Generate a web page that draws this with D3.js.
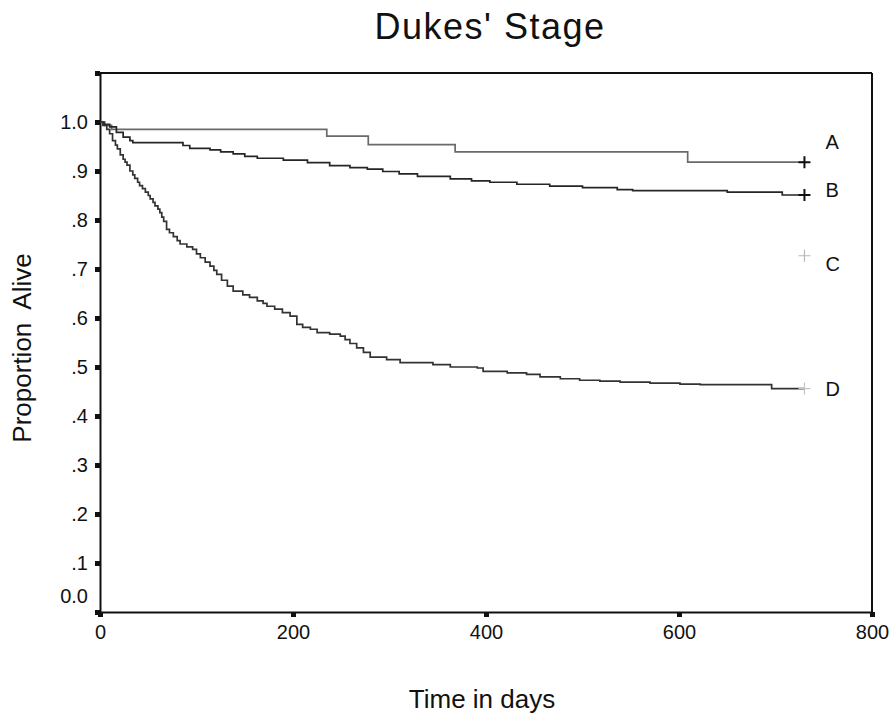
<!DOCTYPE html>
<html>
<head>
<meta charset="utf-8">
<script src="https://cdn.jsdelivr.net/npm/d3@7"></script>
<style>
  body { margin: 0; background: #fff; }
  svg { font-family: "Liberation Sans", Arial, sans-serif; }
</style>
</head>
<body>
<div id="chart"></div>
<script>
// Kaplan-Meier steps (days, proportion alive)
var timeA = [0, 5, 12, 235, 278, 368, 609, 730];
var survA = [1.0, 0.993, 0.985, 0.971, 0.954, 0.939, 0.918, 0.918];

var timeB = [0, 4, 10, 17, 24, 31, 34, 86, 93, 114, 125, 138, 150, 163, 190, 215, 238, 259, 277,
             293, 310, 329, 363, 385, 404, 432, 466, 500, 536, 552, 650, 707, 730];
var survB = [1.0, 0.995, 0.99, 0.979, 0.969, 0.962, 0.958, 0.952, 0.946, 0.943, 0.939, 0.935, 0.930,
             0.926, 0.922, 0.917, 0.911, 0.907, 0.904, 0.899, 0.894, 0.889, 0.884, 0.880, 0.877, 0.873,
             0.869, 0.866, 0.862, 0.860, 0.857, 0.851, 0.851];

var timeD = [0, 3, 7, 10, 13, 16, 18, 21, 24, 26, 28, 31, 34, 36, 39, 41, 44, 47, 50, 52, 55, 57,
             60, 62, 64, 66, 69, 72, 76, 80, 83, 90, 96, 100, 104, 109, 114, 118, 121, 126, 132, 138,
             148, 155, 163, 169, 173, 181, 189, 197, 204, 210, 218, 225, 238, 249, 254, 259, 266, 273,
             280, 297, 311, 345, 363, 391, 397, 422, 442, 456, 477, 497, 518, 539, 570, 601, 622,
             696, 730];
var survD = [1.0, 0.993, 0.985, 0.976, 0.962, 0.953, 0.945, 0.933, 0.924, 0.918, 0.912, 0.900,
             0.892, 0.885, 0.877, 0.870, 0.864, 0.857, 0.850, 0.843, 0.836, 0.829, 0.822, 0.815,
             0.806, 0.797, 0.781, 0.774, 0.766, 0.758, 0.751, 0.745, 0.740, 0.731, 0.723, 0.714,
             0.706, 0.697, 0.689, 0.677, 0.665, 0.655, 0.647, 0.642, 0.635, 0.630, 0.624, 0.618,
             0.611, 0.604, 0.587, 0.581, 0.577, 0.570, 0.567, 0.563, 0.556, 0.548, 0.539, 0.530,
             0.520, 0.515, 0.509, 0.505, 0.500, 0.498, 0.491, 0.488, 0.485, 0.480, 0.476, 0.473,
             0.471, 0.469, 0.467, 0.465, 0.464, 0.456, 0.456];

// censored end points (+) for each stage
var groups = ["A", "B", "C", "D"];
var censorTime = [730, 730, 730, 730];
var censorSurv = [0.918, 0.851, 0.727, 0.456];

var xTicks = [0, 200, 400, 600, 800];
var yTicks = [0, 0.1, 0.2, 0.3, 0.4, 0.5, 0.6, 0.7, 0.8, 0.9, 1.0, 1.1];
var yTickLabels = ["0.0", ".1", ".2", ".3", ".4", ".5", ".6", ".7", ".8", ".9", "1.0", ""];

var width = 893, height = 719;

var svg = d3.select("#chart").append("svg")
    .attr("width", width)
    .attr("height", height);

var x = d3.scaleLinear().domain([0, 800]).range([100, 872]),
    y = d3.scaleLinear().domain([0, 1.1]).range([612, 73]);

// frame top + right
svg.append("line")
   .attr("x1", x(0)).attr("x2", x(800))
   .attr("y1", y(1.1)).attr("y2", y(1.1))
   .attr("stroke", "#111").attr("stroke-width", 2);
svg.append("line")
   .attr("x1", x(800)).attr("x2", x(800))
   .attr("y1", y(1.1)).attr("y2", y(0))
   .attr("stroke", "#111").attr("stroke-width", 2);

var yAxis = svg.append("g")
    .attr("transform", "translate(" + x(0) + ",0)")
    .call(d3.axisLeft(y)
      .tickValues(yTicks)
      .tickFormat(function (d, i) { return yTickLabels[i]; })
      .tickSize(5).tickSizeOuter(0).tickPadding(7));

var xAxis = svg.append("g")
    .attr("transform", "translate(0," + y(0) + ")")
    .call(d3.axisBottom(x)
      .tickValues(xTicks)
      .tickSize(5).tickSizeOuter(0).tickPadding(8));

[yAxis, xAxis].forEach(function (ax) {
  ax.select(".domain").attr("stroke", "#111").attr("stroke-width", 2);
  ax.selectAll(".tick line").attr("stroke", "#111").attr("stroke-width", 5);
  ax.selectAll(".tick text")
    .attr("fill", "#111")
    .style("font-size", "20px")
    .style("font-family", "'Liberation Sans', Arial, sans-serif");
});

// SPSS lifts the 0.0 label off the corner
yAxis.selectAll(".tick text")
     .filter(function (d) { return d === 0; })
     .attr("dy", "-0.48em");

var line = d3.line()
    .x(function (d) { return x(d[0]); })
    .y(function (d) { return y(d[1]); })
    .curve(d3.curveStepAfter);

var curves = [
  { t: timeA, s: survA, color: "#6a6a6a" },
  { t: timeB, s: survB, color: "#262626" },
  { t: timeD, s: survD, color: "#333333" }
];

curves.forEach(function (c) {
  var pts = c.t.map(function (t, i) { return [t, c.s[i]]; });
  svg.append("path")
     .datum(pts)
     .attr("d", line)
     .attr("fill", "none")
     .attr("stroke", c.color)
     .attr("stroke-width", 1.7);
});

var markColor = ["#111", "#111", "#b8b8b8", "#c4c4c4"],
    markWidth = [2, 2, 1.2, 1.2],
    labelNudge = [-20, -5, 8, 0];

groups.forEach(function (g, i) {
  var cx = x(censorTime[i]), cy = y(censorSurv[i]);
  svg.append("path")
     .attr("d", "M" + (cx - 6) + "," + cy + "H" + (cx + 6) + "M" + cx + "," + (cy - 6) + "V" + (cy + 6))
     .attr("stroke", markColor[i])
     .attr("stroke-width", markWidth[i]);
  svg.append("text")
     .attr("x", cx + 21)
     .attr("y", cy + labelNudge[i])
     .attr("dy", "0.36em")
     .style("font-size", "20px")
     .attr("fill", "#111")
     .text(g);
});

svg.append("text")
   .attr("x", 490).attr("y", 39)
   .attr("text-anchor", "middle")
   .style("font-size", "36px")
   .style("letter-spacing", "1.5px")
   .attr("fill", "#111")
   .text("Dukes' Stage");

svg.append("text")
   .attr("x", 482).attr("y", 708)
   .attr("text-anchor", "middle")
   .style("font-size", "26px")
   .attr("fill", "#111")
   .text("Time in days");

svg.append("text")
   .attr("transform", "translate(31,348) rotate(-90)")
   .attr("text-anchor", "middle")
   .style("font-size", "26px")
   .style("white-space", "pre")
   .attr("fill", "#111")
   .text("Proportion  Alive");
</script>
</body>
</html>
